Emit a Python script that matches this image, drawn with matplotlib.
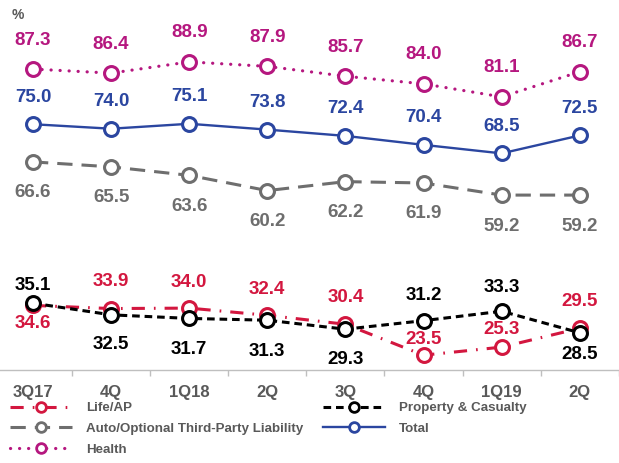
import matplotlib
matplotlib.use("Agg")
import matplotlib.pyplot as plt
from matplotlib.lines import Line2D

plt.rcParams['font.family'] = ['Liberation Sans', 'DejaVu Sans']
plt.rcParams['font.weight'] = 'bold'
plt.rcParams['lines.scale_dashes'] = False

categories = ["3Q17", "4Q", "1Q18", "2Q", "3Q", "4Q", "1Q19", "2Q"]
health = [87.3, 86.4, 88.9, 87.9, 85.7, 84.0, 81.1, 86.7]
total = [75.0, 74.0, 75.1, 73.8, 72.4, 70.4, 68.5, 72.5]
auto = [66.6, 65.5, 63.6, 60.2, 62.2, 61.9, 59.2, 59.2]
life = [34.6, 33.9, 34.0, 32.4, 30.4, 23.5, 25.3, 29.5]
pc = [35.1, 32.5, 31.7, 31.3, 29.3, 31.2, 33.3, 28.5]

# label vertical offsets in pixels (layout only)
health_off = [29] * 8
total_off = [27] * 8
auto_off = [-31] * 8
life_off = [-18, 27, 26, 26, 27, 16, 18, 27]
pc_off = [18, -30, -31, -31, -30, 25, 24, -22]

C_HEALTH = "#B5177F"
C_TOTAL = "#2B46A0"
C_AUTO = "#6E6E6E"
C_LIFE = "#D3173F"
C_PC = "#000000"
C_TXT = "#595959"

fig = plt.figure(figsize=(6.19, 4.63), dpi=100)
ax = fig.add_axes([0, 1 - 370 / 463, 1, 370 / 463])
x = list(range(len(categories)))

styles = [
    ("Life/AP", life, C_LIFE, (0, (9.5, 6.5, 1.2, 6.5)), life_off, 2.2),
    ("Auto/Optional Third-Party Liability", auto, C_AUTO, (0, (11, 6.5)), auto_off, 2.2),
    ("Health", health, C_HEALTH, (0, (0.1, 6.4)), health_off, 2.3),
    ("Property & Casualty", pc, C_PC, (0, (5.5, 3.5)), pc_off, 2.2),
    ("Total", total, C_TOTAL, "-", total_off, 1.7),
]

order_draw = [2, 0, 1, 4, 3]
for k in order_draw:
    name, vals, col, ls, offs, lw = styles[k]
    ax.plot(x, vals, color=col, linestyle=ls, linewidth=lw,
            dash_capstyle='round' if name == "Health" else 'butt',
            marker='o', markersize=10, markerfacecolor='white',
            markeredgecolor=col, markeredgewidth=2.2, zorder=3, clip_on=False)
    for xi, v, o in zip(x, vals, offs):
        ax.annotate(f"{v:.1f}", (xi, v), xytext=(0, o), textcoords='offset pixels',
                    ha='center', va='center', color=col, fontsize=13.5,
                    fontweight='bold')

ax.set_xlim(-0.4225, 7.503)
ax.set_ylim(20.2, 102.7)
for s in ['top', 'left', 'right']:
    ax.spines[s].set_visible(False)
ax.spines['bottom'].set_color('#BFBFBF')
ax.spines['bottom'].set_linewidth(1.0)
ax.set_yticks([])
ax.set_xticks(x)
ax.set_xticklabels(categories, color=C_TXT, fontsize=12, fontweight='bold')
ax.tick_params(axis='x', which='major', length=0, pad=11)
ax.set_xticks([i + 0.5 for i in range(7)] + [7.5], minor=True)
ax.tick_params(axis='x', which='minor', length=4, color='#BFBFBF', width=1.0)

fig.text(12 / 619, 1 - 15 / 463, "%", color=C_TXT, fontsize=10, fontweight='bold',
         ha='left', va='center')

def handle(k):
    name, vals, col, ls, offs, lw = styles[k]
    return Line2D([], [], color=col, linestyle=ls, linewidth=lw,
                  dash_capstyle='round' if name == "Health" else 'butt',
                  marker='o', markersize=7, markerfacecolor='white',
                  markeredgecolor=col, markeredgewidth=2.0)

leg_kw = dict(frameon=False, labelcolor=C_TXT, handlelength=4.65,
              handletextpad=1.05, labelspacing=0.62, borderaxespad=0, borderpad=0,
              loc='upper left', prop={'weight': 'bold', 'size': 9.6})
h1 = [handle(0), handle(1), handle(2)]
l1 = [styles[0][0], styles[1][0], styles[2][0]]
leg1 = fig.legend(h1, l1, bbox_to_anchor=(10 / 619, 1 - 402 / 463), **leg_kw)
h2 = [handle(3), handle(4)]
l2 = [styles[3][0], styles[4][0]]
leg2 = fig.legend(h2, l2, bbox_to_anchor=(323 / 619, 1 - 402 / 463), **leg_kw)

fig.savefig("out.png", dpi=100)
